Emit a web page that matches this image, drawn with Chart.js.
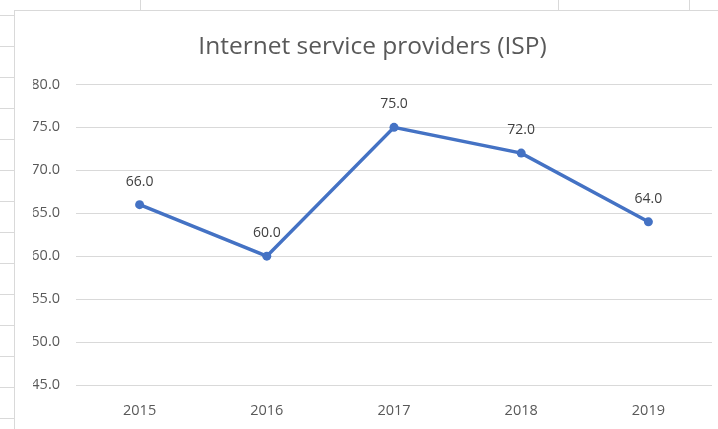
<!DOCTYPE html>
<html>
<head>
<meta charset="utf-8">
<script src="https://cdn.jsdelivr.net/npm/chart.js@4.4.1/dist/chart.umd.min.js"></script>
<style>
    body { margin: 0; background: #fff; width: 718px; height: 429px; overflow: hidden; position: relative; }
    /* spreadsheet cells peeking out around the chart */
    #rowStrip {
        position: absolute; left: 0; top: 0; width: 14px; height: 429px;
        background: repeating-linear-gradient(to bottom, transparent 0px, transparent 14px, #d9d9d9 14px, #d9d9d9 15px, transparent 15px, transparent 31px);
        background-position: 0 1px;
    }
    #colStrip { position: absolute; left: 0; top: 0; width: 718px; height: 10px; }
    .vline { position: absolute; top: 0; width: 1px; height: 10px; background: #d9d9d9; }
    /* the chart box runs a bit past the right edge of the screenshot */
    #chartBox {
        position: absolute; left: 14px; top: 10px; width: 720px; height: 419px;
        border-left: 1px solid #d9d9d9; border-top: 1px solid #d9d9d9; box-sizing: border-box; background: #fff;
    }
</style>
</head>
<body>
<div id="rowStrip"></div>
<div id="colStrip">
    <div class="vline" style="left:140px"></div>
    <div class="vline" style="left:558px"></div>
    <div class="vline" style="left:689px"></div>
</div>
<div id="chartBox"><canvas id="ispChart" width="719" height="418"></canvas></div>

<script>
// chart values
var years = ['2015', '2016', '2017', '2018', '2019'];
var ispValues = [66.0, 60.0, 75.0, 72.0, 64.0];
var yTicks = { min: 45, max: 80, step: 5 };

// draws the value above each point, like excel data labels
var valueLabels = {
    id: 'valueLabels',
    afterDatasetsDraw: function (chart) {
        var ctx = chart.ctx;
        var meta = chart.getDatasetMeta(0);
        ctx.save();
        ctx.font = '14px "Open Sans", sans-serif';
        ctx.fillStyle = '#404040';
        ctx.textAlign = 'center';
        ctx.textBaseline = 'middle';
        for (var i = 0; i < meta.data.length; i++) {
            var pt = meta.data[i];
            ctx.fillText(ispValues[i].toFixed(1), pt.x, pt.y - 23);
        }
        ctx.restore();
    }
};

var ctx = document.getElementById('ispChart');
var ispChart = new Chart(ctx, {
    type: 'line',
    data: {
        labels: years,
        datasets: [{
            data: ispValues,
            borderColor: '#4472C4',
            backgroundColor: '#4472C4',
            borderWidth: 3.5,
            pointRadius: 4.5,
            pointBorderWidth: 0,
            tension: 0
        }]
    },
    options: {
        responsive: false,
        animation: false,
        devicePixelRatio: 1,
        layout: { padding: { left: 18, right: 22, top: 0, bottom: 0 } },
        plugins: {
            legend: { display: false },
            tooltip: { enabled: false },
            title: {
                display: true,
                text: 'Internet service providers (ISP)',
                color: '#595959',
                font: { family: '"Open Sans", sans-serif', size: 24.5, weight: 'normal' },
                padding: { top: 21, bottom: 23 }
            }
        },
        scales: {
            x: {
                offset: true,
                grid: { display: false },
                border: { display: false },
                ticks: {
                    color: '#595959',
                    padding: 9,
                    font: { family: '"Open Sans", sans-serif', size: 14.5 }
                },
                afterFit: function (scale) { scale.height = 44; }
            },
            y: {
                min: yTicks.min,
                max: yTicks.max,
                grid: { color: '#d9d9d9', lineWidth: 1, drawTicks: false },
                border: { display: false },
                ticks: {
                    stepSize: yTicks.step,
                    color: '#595959',
                    padding: 16,
                    font: { family: '"Open Sans", sans-serif', size: 14.5 },
                    callback: function (v) { return v.toFixed(1); }
                },
                afterFit: function (scale) { scale.width = 43; }
            }
        }
    },
    plugins: [valueLabels]
});
</script>
</body>
</html>
